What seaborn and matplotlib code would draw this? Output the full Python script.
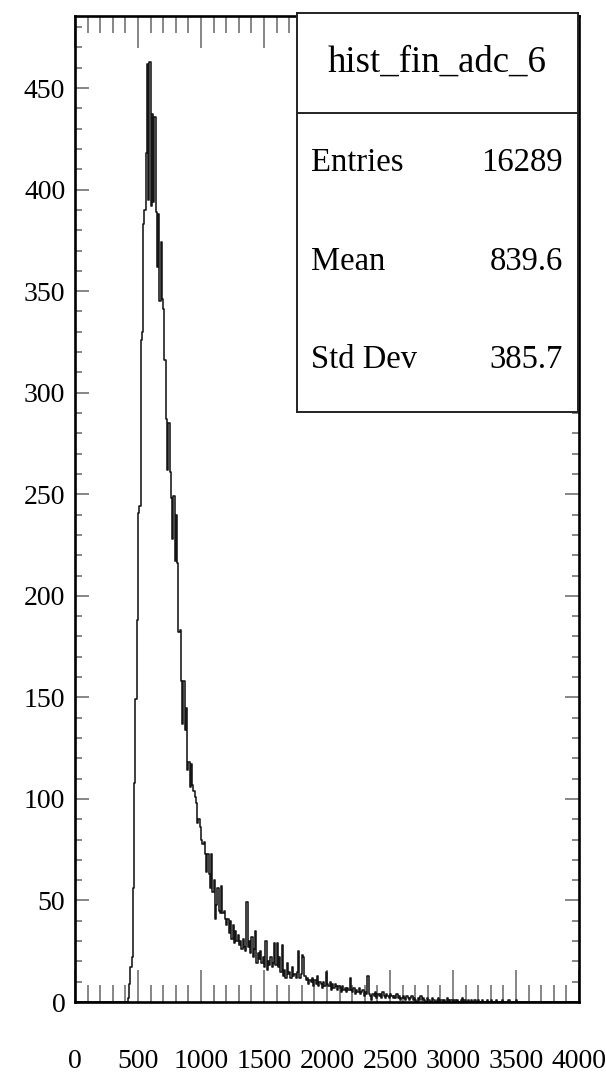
import numpy as np
import pandas as pd
import matplotlib
matplotlib.use("Agg")
import matplotlib.pyplot as plt
import seaborn as sns
from matplotlib.ticker import MultipleLocator

# histogram contents, 10 ADC counts per bin, 0..4000
bin_width = 10
counts = [0] * 40 + [
    0, 0, 2, 9, 17, 22, 56, 108, 149, 188,
    241, 244, 326, 330, 383, 390, 418, 462, 395, 463,
    392, 437, 394, 436, 389, 362, 388, 345, 374, 346,
    341, 316, 287, 262, 285, 261, 248, 228, 249, 217,
    240, 216, 182, 183, 158, 137, 158, 134, 145, 114,
    118, 106, 117, 107, 104, 101, 98, 88, 90, 86,
    80, 78, 79, 73, 64, 73, 63, 56, 73, 54,
    60, 41, 48, 56, 45, 44, 57, 44, 45, 41,
    38, 41, 34, 40, 31, 38, 29, 35, 30, 33,
    28, 30, 26, 31, 27, 25, 49, 27, 30, 24,
    32, 22, 26, 35, 19, 24, 21, 25, 19, 22,
    17, 30, 16, 20, 18, 22, 17, 19, 29, 18,
    29, 17, 22, 15, 28, 13, 16, 12, 19, 14,
    15, 12, 17, 13, 14, 12, 15, 25, 12, 14,
    23, 22, 13, 11, 12, 9, 11, 10, 12, 8,
    11, 9, 13, 8, 10, 9, 7, 10, 8, 15,
    9, 8, 10, 6, 9, 7, 9, 8, 6, 8,
    7, 5, 8, 6, 7, 5, 7, 6, 12, 6,
    5, 7, 4, 6, 5, 7, 4, 5, 6, 3,
    5, 4, 13, 4, 3, 1, 4, 3, 5, 2,
    4, 3, 4, 2, 5, 3, 2, 4, 3, 2,
    4, 3, 2, 3, 2, 4, 2, 3, 1, 2,
    3, 2, 1, 3, 2, 1, 2, 3, 1, 2,
    1, 0, 2, 1, 3, 1, 2, 1, 0, 2,
    1, 1, 0, 2, 1, 1, 0, 1, 2, 0,
    1, 1, 0, 1, 0, 2, 1, 0, 1, 1,
    0, 1, 0, 1, 0, 0, 1, 2, 0, 1,
    0, 0, 1, 0, 1, 0, 0, 1, 0, 0,
    1, 0, 0, 1, 0, 0, 0, 1, 0, 0,
    1, 0, 0, 0, 1, 0, 0, 0, 0, 1,
    0, 0, 0, 0, 1, 0, 0, 0, 0, 0,
    1, 0, 0, 0, 0, 0, 0, 0, 0, 0,
] + [0] * 40

x_ticks = [0, 500, 1000, 1500, 2000, 2500, 3000, 3500, 4000]
y_ticks = [0, 50, 100, 150, 200, 250, 300, 350, 400, 450]

hist_name = "hist_fin_adc_6"
stat_names = ["Entries", "Mean", "Std Dev"]
stat_values = ["16289", "839.6", "385.7"]

x_max = len(counts) * bin_width
df = pd.DataFrame({"adc": np.arange(len(counts)) * bin_width + bin_width / 2,
                   "n": counts})

sns.set_style("white")
plt.rcParams["font.family"] = ["Liberation Serif", "DejaVu Serif"]
plt.rcParams["text.color"] = "black"

fig = plt.figure(figsize=(6.06, 10.73), dpi=100)
ax = fig.add_axes([75 / 606, 1 - 1002 / 1073, 504 / 606, 986 / 1073])

sns.histplot(data=df, x="adc", weights="n", binwidth=bin_width, binrange=(0, x_max),
             element="step", fill=False, color="#151515", linewidth=1.15, ax=ax)

ax.set_xlim(0, 4000)
ax.set_ylim(0, 485.5)
ax.set_xlabel("")
ax.set_ylabel("")

ax.set_xticks(x_ticks)
ax.set_xticklabels([str(t) for t in x_ticks])
ax.set_yticks(y_ticks)
ax.set_yticklabels([str(t) for t in y_ticks])
ax.xaxis.set_minor_locator(MultipleLocator(100))
ax.yaxis.set_minor_locator(MultipleLocator(10))

ax.tick_params(axis="both", which="both", direction="in",
               bottom=True, left=True, top=True, right=True,
               color="#666666", width=1.1, labelsize=20, labelcolor="black")
ax.tick_params(axis="x", which="major", length=23, pad=34)
ax.tick_params(axis="x", which="minor", length=12)
ax.tick_params(axis="y", which="major", length=10, pad=7)
ax.tick_params(axis="y", which="minor", length=5)

for sp in ax.spines.values():
    sp.set_color("black")
    sp.set_linewidth(1.9)

# statistics box, ROOT style
box = fig.add_axes([297 / 606, 1 - 412 / 1073, 281 / 606, 399 / 1073])
box.set_xlim(0, 1)
box.set_ylim(0, 1)
box.set_xticks([])
box.set_yticks([])
box.set_facecolor("white")
for sp in box.spines.values():
    sp.set_color("#222222")
    sp.set_linewidth(1.4)
box.axhline(0.7494, color="#222222", linewidth=1.4)

box.text(0.498, 0.877, hist_name, ha="center", va="center", fontsize=26.5)
stat_y = [0.624, 0.376, 0.130]
for name, val, yy in zip(stat_names, stat_values, stat_y):
    box.text(0.05, yy, name, ha="left", va="center", fontsize=23.5)
    box.text(0.947, yy, val, ha="right", va="center", fontsize=23.5)

fig.savefig("out.png", dpi=100)
